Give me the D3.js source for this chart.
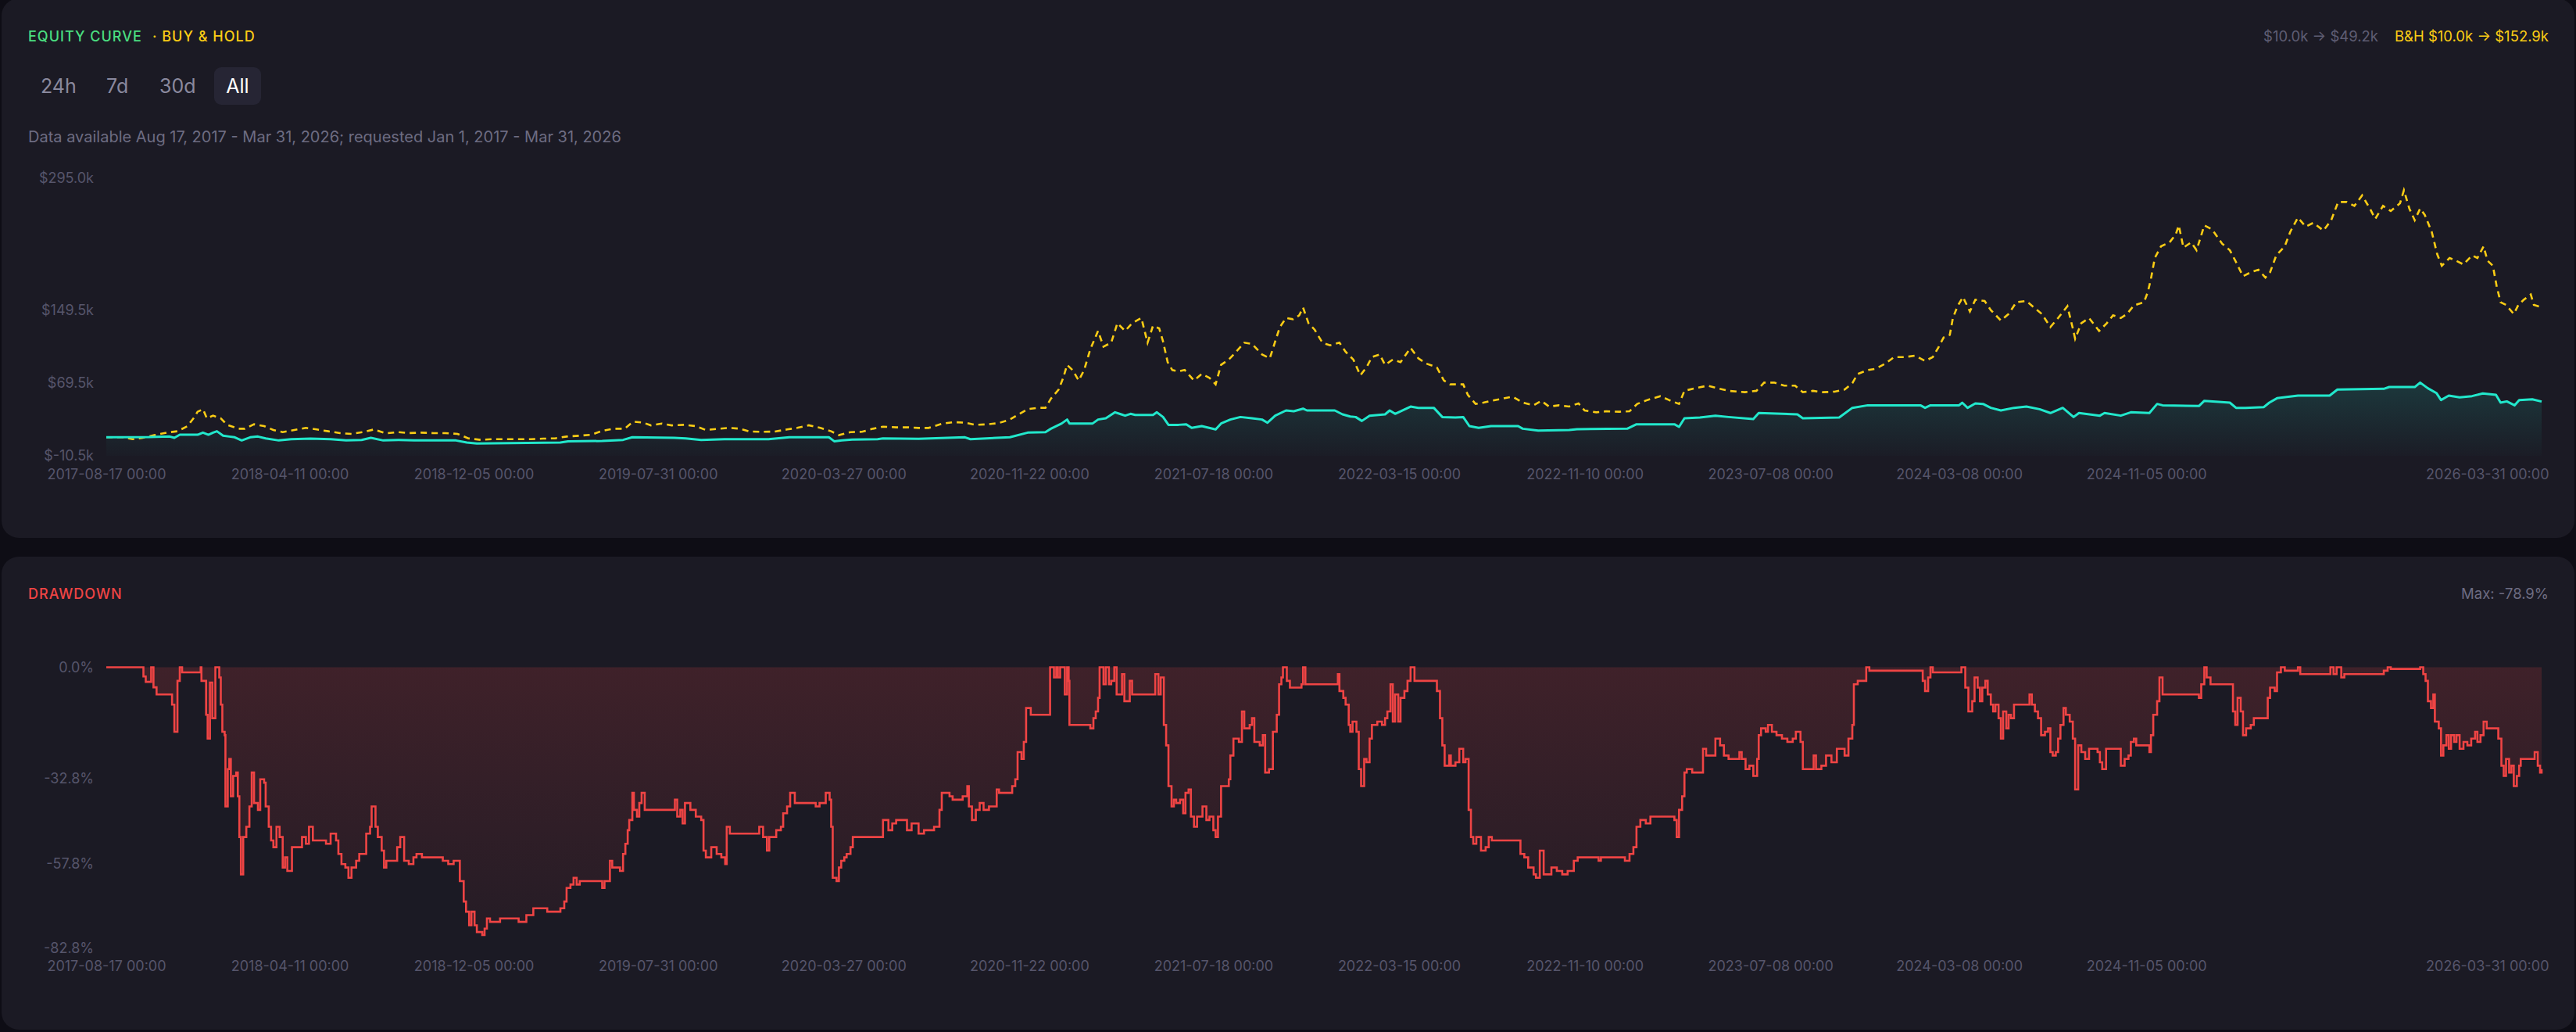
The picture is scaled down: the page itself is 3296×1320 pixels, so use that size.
<!DOCTYPE html>
<html><head>
<meta charset="utf-8">
<title>Equity curve</title>
<script src="https://cdn.jsdelivr.net/npm/d3@7"></script>
<style>
  body { margin: 0; background: #0e0d15; }
  svg { display: block; font-family: Inter, "Noto Sans", sans-serif; }
</style>
</head>
<body>
<div id="chart"></div>
<script>

// days since 2017-08-17, value in $k
var buyHold = [[0,10],[21,10],[34,7.8],[47,9.3],[62,12.2],[78,15],[92,16.5],[105,22.2],[114,32.2],[118,38],[125,40.8],[130,30.8],[138,33.7],[148,30.8],[156,23.6],[171,19.3],[179,19.3],[191,24.2],[204,22.2],[216,17.9],[228,15.6],[243,17.9],[258,20.2],[272,18.5],[287,16.5],[302,14.5],[317,13.6],[332,15.6],[346,18.5],[361,14.2],[377,15.6],[391,14.5],[407,15],[423,14.5],[438,14.5],[454,13.6],[468,8.7],[484,7],[499,7.8],[516,7.8],[532,7.8],[549,7.8],[565,8.4],[580,8.7],[595,10.7],[611,11.6],[627,12.7],[641,17],[656,19.3],[670,19.3],[681,27.1],[694,26],[704,23],[718,25],[731,23],[747,23.6],[762,22.2],[775,17.9],[792,19.3],[805,20.2],[819,19.3],[832,16.2],[850,15.9],[864,16.2],[880,18.5],[893,20.2],[908,23.1],[923,20.2],[937,16.5],[947,12.2],[962,15.6],[977,15.9],[991,19.3],[1004,21.6],[1021,20.8],[1037,20.8],[1050,20.2],[1063,20.2],[1080,24.8],[1095,26.5],[1110,26],[1123,23.6],[1140,24.2],[1154,25.6],[1168,29.4],[1178,34.5],[1191,40.8],[1204,42.3],[1214,42.3],[1221,52.3],[1231,62.4],[1237,75.3],[1242,89.6],[1249,83.9],[1257,72.4],[1264,83.9],[1272,106.8],[1282,126.9],[1289,109.7],[1299,114],[1307,135.5],[1317,126.9],[1326,135.5],[1338,141.2],[1346,114],[1353,132.6],[1361,129.8],[1366,115.4],[1372,92.5],[1378,83.9],[1386,82.4],[1394,83.9],[1406,72.4],[1416,79.6],[1426,75.3],[1434,68.1],[1441,89.6],[1451,95.4],[1461,104.5],[1471,114],[1481,112.6],[1494,101.1],[1504,96.8],[1511,115.4],[1517,131.2],[1525,141.2],[1534,139.8],[1542,144.1],[1547,152.7],[1554,135.5],[1562,128.3],[1572,114],[1582,111.1],[1594,114],[1602,104],[1612,95.4],[1621,78.1],[1629,86.8],[1636,98.2],[1646,101.1],[1653,89.6],[1663,95.4],[1673,92.5],[1686,108.3],[1696,96.8],[1706,91.1],[1720,86.8],[1729,72.4],[1737,68.1],[1754,68.1],[1760,56.6],[1770,46.6],[1780,48],[1790,50],[1804,52.3],[1818,54.6],[1831,48],[1845,45.1],[1855,50],[1865,43.7],[1878,45.1],[1891,43.7],[1903,47.2],[1911,39.4],[1926,37.4],[1939,38.5],[1956,38],[1969,38.5],[1979,46.6],[1992,50.9],[2009,55.2],[2020,50.9],[2033,46.6],[2040,61],[2053,63.8],[2070,66.7],[2083,63.8],[2097,61],[2118,59.5],[2133,61],[2143,70.1],[2156,70.1],[2169,66.7],[2183,66.7],[2193,59.5],[2206,61],[2219,59.5],[2234,60.1],[2247,62.4],[2257,69.5],[2264,79.6],[2277,83.9],[2287,85.3],[2300,91.1],[2311,98.2],[2325,98.2],[2338,99.7],[2351,93.9],[2361,98.2],[2368,108.3],[2375,119.7],[2383,122.6],[2387,141.2],[2393,154.2],[2400,164.2],[2409,148.4],[2416,161.3],[2428,159.9],[2436,149.9],[2449,138.4],[2459,145.6],[2469,158.5],[2482,159.9],[2492,152.7],[2502,145.6],[2513,131.2],[2523,141.2],[2535,154.2],[2542,129.8],[2545,118.3],[2553,135.5],[2563,141.2],[2576,126.9],[2586,135.5],[2594,144.1],[2604,141.2],[2612,145.6],[2621,155],[2634,158.5],[2639,169.9],[2643,184.3],[2648,207.2],[2656,220.1],[2667,224.4],[2675,233],[2679,243.1],[2685,218.7],[2695,224.4],[2702,215.8],[2712,243.1],[2722,238.8],[2735,223],[2745,215.8],[2752,204.4],[2762,187.1],[2772,191.5],[2782,194.3],[2791,185.7],[2797,191.5],[2805,210.1],[2816,220.1],[2823,235.9],[2833,251.7],[2843,241.7],[2853,246],[2866,237.4],[2876,248.8],[2885,268.9],[2896,268.9],[2906,264.6],[2916,276.1],[2926,261.7],[2933,250.3],[2943,264.6],[2953,258.9],[2965,267.5],[2970,281.8],[2977,261.7],[2984,248.8],[2991,261.7],[2997,254.6],[3006,235.9],[3013,211.5],[3019,198.6],[3029,207.2],[3037,204.4],[3047,200.1],[3058,210.1],[3065,207.2],[3073,220.1],[3078,204.4],[3085,198.6],[3090,175.7],[3095,158.5],[3102,155.6],[3112,145.6],[3118,155.6],[3125,161.3],[3134,167.1],[3138,155.6],[3148,152.9]];

var strategy = [[0,10],[55,10.1],[82,10.7],[88,9.3],[95,12.7],[118,12.7],[125,15],[132,12.7],[138,15],[143,16.5],[151,11.6],[159,10.7],[166,9.9],[175,6.4],[186,9.9],[196,10.7],[206,8.7],[223,6.4],[239,7.8],[264,8.4],[290,7.8],[310,6.4],[330,7],[342,9.3],[358,6.4],[378,7],[398,6.4],[452,6.4],[466,4.1],[479,3],[587,4.1],[597,5.5],[641,5.8],[668,7],[680,9.9],[734,9.3],[749,8.7],[769,7],[799,7.8],[856,7.8],[883,9.9],[934,9.9],[941,5.5],[951,6.4],[964,7.3],[997,7.8],[1004,8.7],[1050,8.2],[1110,9.9],[1117,7.8],[1168,9.9],[1191,15],[1214,15.6],[1221,19.3],[1235,25.1],[1242,29.4],[1245,25.1],[1275,25.1],[1282,29.4],[1292,30.8],[1304,37.4],[1312,35.1],[1317,33.7],[1324,35.7],[1330,34.5],[1353,34.5],[1358,37.4],[1366,32.2],[1373,23.6],[1386,23.6],[1396,24.2],[1403,20.2],[1416,22.2],[1434,18.5],[1441,25.1],[1453,29.4],[1466,32.2],[1481,30.8],[1494,29.4],[1501,25.9],[1511,33.7],[1525,39.4],[1535,38.5],[1547,41.4],[1552,39.4],[1588,39.4],[1598,35.1],[1608,32.8],[1615,32.2],[1623,27.9],[1633,33.7],[1653,35.1],[1659,39.4],[1666,35.7],[1673,38.5],[1686,43.7],[1696,42.3],[1716,42.3],[1727,32.2],[1744,31.7],[1754,32.2],[1762,22.2],[1774,20.2],[1790,22.2],[1825,22.2],[1831,19.3],[1851,17.3],[1891,17.9],[1901,18.8],[1966,19.3],[1978,24.2],[2027,24.2],[2033,21.3],[2040,30.8],[2060,31.7],[2080,33.7],[2097,32.2],[2129,29.9],[2136,36.6],[2186,35.1],[2193,30.8],[2240,31.7],[2257,42.3],[2277,45.1],[2345,45.1],[2351,42.3],[2358,45.1],[2395,45.1],[2399,48],[2406,42.3],[2416,47.2],[2426,46.6],[2436,42.3],[2449,39.4],[2466,42.3],[2482,43.7],[2499,40.8],[2513,36.6],[2529,42.3],[2543,32.2],[2550,36.6],[2577,33.7],[2583,36.6],[2604,33.7],[2617,37.4],[2641,36.6],[2651,46.6],[2658,45.1],[2705,44.3],[2712,50],[2745,48],[2753,42.3],[2765,42.3],[2789,43.1],[2796,48],[2806,52.9],[2833,55.8],[2874,55.8],[2884,62.4],[2944,63.2],[2951,65.2],[2984,65.2],[2991,70.1],[3001,63.8],[3012,58.6],[3018,50.9],[3028,55.8],[3042,53.8],[3058,55.2],[3072,58.1],[3089,56.6],[3095,48],[3103,49.4],[3113,45.1],[3119,50.9],[3136,51.7],[3148,49.2]];

// drawdown in %, each value holds until the next day listed
var drawdown = [[0,0],[48,-2.7],[51,-4.3],[58,0],[61,-5.9],[65,-8],[85,-11],[88,-19],[92,-4],[95,0],[98,-1.5],[122,0],[123,-4],[129,-14],[131,-21],[134,-4.5],[137,-15],[141,0],[146,-3],[148,-11],[150,-19],[153,-20],[154,-41],[157,-30],[159,-27],[161,-38],[164,-32],[168,-31],[170,-38],[172,-50],[174,-61],[177,-50],[181,-47],[185,-41],[188,-31],[191,-40],[196,-42],[199,-33],[204,-34],[206,-41],[210,-47],[213,-51],[216,-53],[220,-47],[224,-50],[228,-59],[231,-56],[234,-60],[240,-53],[253,-50],[258,-52],[262,-47],[267,-51],[284,-52],[290,-49],[297,-51],[300,-55],[304,-58],[309,-59],[313,-62],[317,-59],[323,-57],[327,-55],[333,-55],[336,-49],[341,-47],[343,-41],[348,-47],[351,-50],[356,-54],[359,-59],[362,-57],[371,-57],[376,-53],[380,-50],[385,-57],[391,-58],[397,-56],[401,-55],[408,-56],[435,-57],[442,-58],[449,-57],[455,-57],[457,-63],[462,-69],[465,-72],[469,-76],[472,-72],[476,-76],[479,-78],[486,-78.9],[489,-77],[492,-74],[496,-75],[509,-74],[526,-74],[533,-75],[540,-75],[543,-73],[552,-71],[566,-71],[570,-72],[587,-71],[592,-69],[595,-65],[600,-64],[604,-62],[608,-64],[612,-63],[637,-63],[641,-65],[644,-63],[651,-57],[654,-59],[664,-60],[668,-55],[671,-52],[674,-48],[676,-45],[680,-37],[682,-42],[686,-44],[689,-40],[692,-37],[696,-42],[731,-42],[735,-39],[738,-44],[742,-42],[745,-46],[748,-40],[755,-42],[762,-44],[769,-45],[772,-54],[775,-56],[782,-53],[789,-55],[795,-56],[800,-58],[802,-47],[806,-49],[839,-49],[844,-47],[849,-50],[854,-54],[857,-50],[866,-48],[872,-47],[875,-43],[880,-41],[884,-37],[890,-40],[917,-41],[922,-40],[930,-37],[935,-39],[937,-47],[939,-62],[944,-63],[947,-59],[950,-57],[954,-56],[957,-55],[962,-53],[965,-50],[1001,-50],[1004,-45],[1011,-48],[1016,-46],[1021,-45],[1028,-45],[1035,-48],[1041,-46],[1050,-49],
[1057,-48],[1070,-47],[1077,-42],[1080,-37],[1090,-38],[1094,-39],[1107,-38],[1113,-35],[1115,-41],[1119,-45],[1124,-42],[1129,-40],[1134,-42],[1141,-41],[1151,-36],[1154,-37],[1168,-37],[1171,-35],[1175,-33],[1178,-25],[1183,-27],[1186,-22],[1189,-12],[1195,-14],[1217,-14],[1220,0],[1225,-3],[1228,0],[1230,-3],[1233,0],[1239,-8],[1242,0],[1244,-4],[1245,-17],[1272,-18],[1276,-15],[1279,-13],[1282,-9],[1284,0],[1289,-5],[1292,0],[1296,-5],[1299,-4],[1303,0],[1306,-8],[1313,-2],[1316,-10],[1323,-4],[1326,-8],[1353,-8],[1356,-2],[1360,-8],[1363,-3],[1367,-17],[1370,-23],[1373,-35],[1377,-41],[1380,-39],[1383,-40],[1388,-39],[1392,-43],[1395,-37],[1399,-36],[1402,-44],[1406,-47],[1410,-44],[1417,-41],[1422,-45],[1426,-44],[1431,-48],[1434,-50],[1437,-44],[1441,-35],[1447,-35],[1451,-33],[1453,-26],[1457,-21],[1464,-22],[1468,-13],[1471,-18],[1478,-17],[1481,-15],[1484,-22],[1491,-23],[1495,-20],[1498,-31],[1503,-30],[1508,-19],[1513,-14],[1516,-5],[1519,-3],[1521,0],[1526,-4],[1530,-6],[1542,-6],[1545,-5],[1547,0],[1550,-5],[1589,-5],[1592,-2],[1594,-7],[1599,-9],[1602,-11],[1606,-17],[1608,-19],[1611,-16],[1616,-19],[1619,-30],[1622,-35],[1626,-27],[1629,-28],[1633,-21],[1636,-17],[1643,-16],[1649,-17],[1653,-15],[1656,-13],[1660,-5],[1663,-16],[1666,-8],[1670,-16],[1673,-9],[1678,-7],[1682,-4],[1686,0],[1691,-4],[1717,-4],[1720,-7],[1724,-15],[1727,-23],[1730,-29],[1736,-26],[1738,-29],[1744,-28],[1749,-24],[1754,-28],[1757,-27],[1761,-42],[1764,-50],[1767,-52],[1771,-50],[1777,-54],[1783,-53],[1787,-50],[1791,-51],[1825,-51],[1828,-55],[1833,-56],[1838,-59],[1845,-61],[1848,-62],[1853,-54],[1858,-61],[1865,-61],[1868,-59],[1875,-60],[1882,-61],[1889,-60],[1897,-57],[1902,-56],[1929,-57],[1932,-56],[1956,-56],[1963,-57],[1969,-55],[1974,-53],[1978,-47],[1983,-45],[1990,-46],[1996,-44],[2027,-45],[2030,-50],[2033,-42],[2037,-38],[2040,-31],[2043,-30],[2050,-31],[2064,-24],[2068,-26],[2077,-26],[2080,-21],[2086,-23],[2091,-26],[2097,-27],
[2111,-25],[2114,-27],[2119,-30],[2124,-29],[2129,-32],[2134,-27],[2136,-20],[2139,-18],[2145,-19],[2148,-17],[2153,-19],[2159,-20],[2166,-21],[2173,-22],[2180,-21],[2184,-19],[2190,-22],[2193,-30],[2203,-30],[2207,-26],[2210,-30],[2217,-29],[2223,-26],[2230,-28],[2237,-24],[2247,-26],[2252,-21],[2257,-17],[2259,-5],[2264,-4],[2271,-4],[2275,0],[2279,-1],[2343,-1],[2348,-4],[2351,-7],[2355,-3],[2358,0],[2361,-1.5],[2395,-1.5],[2398,0],[2403,-6],[2407,-13],[2412,-10],[2415,-3],[2419,-6],[2422,-10],[2425,-6],[2429,-4],[2432,-8],[2436,-11],[2439,-13],[2442,-11],[2446,-15],[2449,-21],[2452,-13],[2456,-18],[2459,-14],[2462,-15],[2466,-11],[2483,-11],[2486,-8],[2489,-11],[2493,-13],[2497,-15],[2501,-20],[2506,-19],[2510,-18],[2513,-25],[2516,-26],[2520,-25],[2523,-21],[2526,-17],[2530,-12],[2533,-14],[2538,-16],[2542,-21],[2545,-36],[2549,-23],[2553,-25],[2558,-27],[2563,-24],[2574,-25],[2577,-28],[2580,-30],[2585,-24],[2600,-24],[2604,-29],[2609,-27],[2614,-26],[2617,-22],[2621,-21],[2624,-23],[2638,-23],[2641,-25],[2643,-20],[2646,-14],[2651,-10],[2654,-3],[2658,-8],[2702,-8],[2705,-9],[2708,-5],[2712,0],[2715,-3],[2720,-5],[2745,-5],[2749,-13],[2752,-17],[2755,-9],[2759,-13],[2762,-20],[2766,-18],[2772,-17],[2776,-15],[2793,-15],[2794,-9],[2797,-6],[2803,-7],[2806,-1.5],[2811,0],[2816,-1],[2829,-1],[2833,0],[2836,-2],[2873,-2],[2875,0],[2879,-2],[2883,0],[2889,-3],[2893,-2],[2941,-2],[2944,-1],[2949,0],[2953,-0.5],[2988,-0.5],[2991,0],[2995,-2],[2998,-4],[3001,-10],[3005,-12],[3008,-8],[3010,-16],[3015,-18],[3018,-26],[3021,-23],[3025,-20],[3028,-24],[3031,-20],[3035,-22],[3038,-20],[3042,-24],[3047,-22],[3052,-23],[3057,-21],[3062,-19],[3065,-22],[3069,-20],[3073,-16],[3077,-18],[3089,-18],[3092,-21],[3096,-29],[3099,-32],[3102,-27],[3106,-31],[3109,-29],[3112,-35],[3116,-32],[3119,-29],[3121,-27],[3136,-27],[3139,-25],[3143,-29],[3146,-31],[3148,-30]];

var tickDates = ["2017-08-17","2018-04-11","2018-12-05","2019-07-31","2020-03-27","2020-11-22","2021-07-18","2022-03-15","2022-11-10","2023-07-08","2024-03-08","2024-11-05","2026-03-31"];
var equityTicks = [-10.5, 69.5, 149.5, 295.0];
var drawdownTicks = [0, -32.8, -57.8, -82.8];
var ranges = ["24h", "7d", "30d", "All"];

var W = 3296, H = 1320;
var startDay = Date.UTC(2017, 7, 17);
function toDate(d) { return new Date(startDay + d * 864e5); }
var parseTick = d3.utcParse("%Y-%m-%d");

var svg = d3.select("#chart").append("svg")
    .attr("width", W)
    .attr("height", H);

var defs = svg.append("defs");

var g1 = defs.append("linearGradient").attr("id", "eqFill")
    .attr("gradientUnits", "userSpaceOnUse")
    .attr("x1", 0).attr("x2", 0).attr("y1", 480).attr("y2", 585);
g1.append("stop").attr("offset", 0).attr("stop-color", "#22e8cc").attr("stop-opacity", 0.16);
g1.append("stop").attr("offset", 1).attr("stop-color", "#22e8cc").attr("stop-opacity", 0.01);

var g2 = defs.append("linearGradient").attr("id", "ddFill")
    .attr("gradientUnits", "userSpaceOnUse")
    .attr("x1", 0).attr("x2", 0).attr("y1", 853).attr("y2", 1213);
g2.append("stop").attr("offset", 0).attr("stop-color", "#ef4444").attr("stop-opacity", 0.17);
g2.append("stop").attr("offset", 1).attr("stop-color", "#ef4444").attr("stop-opacity", 0.04);

// cards
svg.append("rect").attr("x", 2).attr("y", -2).attr("width", 3292).attr("height", 690)
    .attr("rx", 22).attr("fill", "#1b1a24");
svg.append("rect").attr("x", 2).attr("y", 712).attr("width", 3292).attr("height", 605)
    .attr("rx", 22).attr("fill", "#1b1a24");

// header of equity card
svg.append("text").attr("x", 36).attr("y", 53)
    .style("font-size", "18px").style("font-weight", 500).style("letter-spacing", "1px")
    .attr("fill", "#4ade80").text("EQUITY CURVE");
svg.append("text").attr("x", 195).attr("y", 53)
    .style("font-size", "18px").style("font-weight", 500).style("letter-spacing", "1px")
    .attr("fill", "#facc15").text("· BUY & HOLD");

svg.append("text").attr("x", 3261).attr("y", 53).attr("text-anchor", "end")
    .style("font-size", "18.5px").attr("fill", "#facc15").text("B&H $10.0k → $152.9k");
svg.append("text").attr("x", 3043).attr("y", 53).attr("text-anchor", "end")
    .style("font-size", "18.5px").attr("fill", "#5e5d73").text("$10.0k → $49.2k");

var btnX = [52, 136, 204, 304];
svg.append("rect").attr("x", 274).attr("y", 86).attr("width", 60).attr("height", 48)
    .attr("rx", 9).attr("fill", "#262534");
ranges.forEach(function(r, i) {
  svg.append("text").attr("x", btnX[i]).attr("y", 119)
    .attr("text-anchor", r == "All" ? "middle" : "start")
    .style("font-size", "25px")
    .attr("fill", r == "All" ? "#ffffff" : "#8a899e")
    .text(r);
});

svg.append("text").attr("x", 36).attr("y", 182)
    .style("font-size", "20px").attr("fill", "#6d6c82")
    .text("Data available Aug 17, 2017 - Mar 31, 2026; requested Jan 1, 2017 - Mar 31, 2026");

// scales
var x = d3.scaleUtc()
    .domain([toDate(0), toDate(3148)])
    .range([136, 3252]);

var yEq = d3.scaleLinear().domain([-10.5, 295]).range([583, 228]);
var yDd = d3.scaleLinear().domain([-82.8, 0]).range([1213, 853.5]);

function xAxisAt(yPos) {
  var ax = svg.append("g")
    .attr("transform", "translate(0," + yPos + ")")
    .call(d3.axisBottom(x)
      .tickValues(tickDates.map(parseTick))
      .tickSize(0)
      .tickFormat(function(d) { return d3.utcFormat("%Y-%m-%d")(d) + " 00:00"; }));
  ax.select(".domain").remove();
  ax.selectAll("text")
    .attr("y", 0).attr("dy", "0.35em")
    .attr("fill", "#56556b")
    .style("font-size", "18px")
    .style("font-family", "Inter, sans-serif");
  // last label is pushed inside the card edge
  ax.selectAll(".tick").filter(function(d, i) { return i == tickDates.length - 1; })
    .select("text").attr("text-anchor", "end").attr("x", 3261 - x(toDate(3148)));
}

function yAxisOf(scale, ticks, fmt) {
  var ax = svg.append("g")
    .attr("transform", "translate(130,0)")
    .call(d3.axisLeft(scale).tickValues(ticks).tickSize(0).tickPadding(10).tickFormat(fmt));
  ax.select(".domain").remove();
  ax.selectAll("text")
    .attr("fill", "#56556b")
    .style("font-size", "18px")
    .style("font-family", "Inter, sans-serif");
}

// equity chart
yAxisOf(yEq, equityTicks, function(d) { return "$" + d.toFixed(1) + "k"; });
xAxisAt(607);

svg.append("path")
    .datum(strategy)
    .attr("fill", "url(#eqFill)")
    .attr("d", d3.area()
      .x(function(d) { return x(toDate(d[0])); })
      .y0(yEq(-10.5))
      .y1(function(d) { return yEq(d[1]); }));

svg.append("path")
    .datum(buyHold)
    .attr("fill", "none")
    .attr("stroke", "#facc15")
    .attr("stroke-width", 2.6)
    .attr("stroke-dasharray", "8,6")
    .attr("d", d3.line()
      .x(function(d) { return x(toDate(d[0])); })
      .y(function(d) { return yEq(d[1]); }));

svg.append("path")
    .datum(strategy)
    .attr("fill", "none")
    .attr("stroke", "#22e8cc")
    .attr("stroke-width", 3)
    .attr("stroke-linejoin", "round")
    .attr("d", d3.line()
      .x(function(d) { return x(toDate(d[0])); })
      .y(function(d) { return yEq(d[1]); }));

// drawdown chart
svg.append("text").attr("x", 36).attr("y", 766)
    .style("font-size", "18px").style("font-weight", 500).style("letter-spacing", "1px")
    .attr("fill", "#ef4444").text("DRAWDOWN");
svg.append("text").attr("x", 3261).attr("y", 766).attr("text-anchor", "end")
    .style("font-size", "18.5px").attr("fill", "#6d6c82").text("Max: -78.9%");

yAxisOf(yDd, drawdownTicks, function(d) { return d.toFixed(1) + "%"; });
xAxisAt(1236);

svg.append("path")
    .datum(drawdown)
    .attr("fill", "url(#ddFill)")
    .attr("d", d3.area()
      .curve(d3.curveStepAfter)
      .x(function(d) { return x(toDate(d[0])); })
      .y0(yDd(0))
      .y1(function(d) { return yDd(d[1]); }));

svg.append("path")
    .datum(drawdown)
    .attr("fill", "none")
    .attr("stroke", "#ef4444")
    .attr("stroke-width", 2.6)
    .attr("d", d3.line()
      .curve(d3.curveStepAfter)
      .x(function(d) { return x(toDate(d[0])); })
      .y(function(d) { return yDd(d[1]); }));

</script>
</body></html>
